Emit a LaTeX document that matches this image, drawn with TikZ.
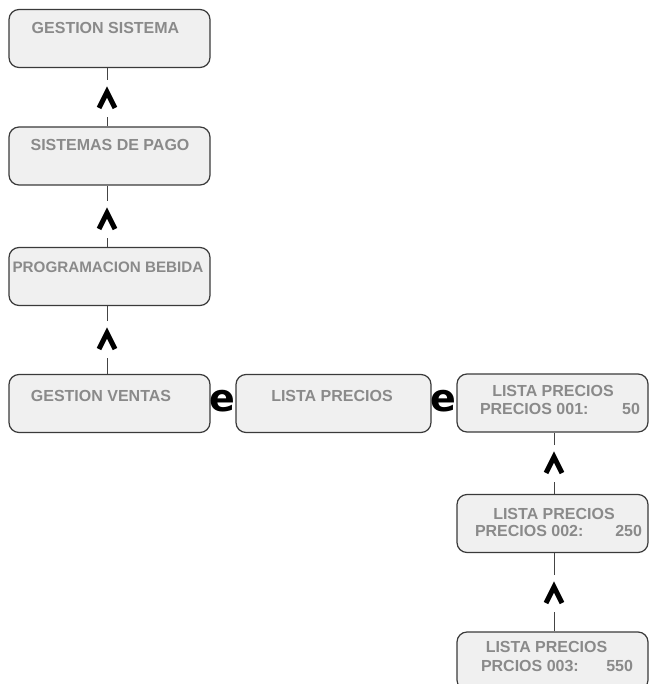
\documentclass[tikz,border=0pt]{standalone}
\usepackage{fontspec}
\setmainfont{Liberation Sans}
\newfontfamily\efont{DejaVu Sans}
\definecolor{boxfill}{HTML}{F0F0F0}
\definecolor{boxline}{HTML}{3A3A3A}
\definecolor{txtgray}{HTML}{8A8A8A}
\definecolor{connline}{HTML}{444444}
\tikzset{
  menubox/.style={draw=boxline, fill=boxfill, line width=1.2pt, rounded corners=10pt,
    minimum height=58pt, inner sep=0pt},
  wideleft/.style={menubox, minimum width=201pt},
  midbox/.style={menubox, minimum width=195pt},
  rightbox/.style={menubox, minimum width=191pt},
  boxtxt/.style={text=txtgray, font=\bfseries\fontsize{16}{18}\selectfont, inner sep=0pt},
  boxtxtsmall/.style={boxtxt, font=\bfseries\fontsize{15.2}{18}\selectfont},
  caretnode/.style={minimum width=16pt, minimum height=16pt, inner sep=0pt, outer sep=0pt},
  caretline/.style={line width=5pt, line join=miter, black},
  conn/.style={draw=connline, line width=1pt},
  eletter/.style={font=\efont\bfseries\fontsize{38}{38}\selectfont, inner sep=0pt, text=black}
}
\begin{document}
\begin{tikzpicture}[x=1pt, y=-1pt]
\path[use as bounding box, clip] (0,0) rectangle (649,684);
% boxes
\node[wideleft] (b1) at (109.5,38.5) {};
\node[wideleft] (b2) at (109.5,156) {};
\node[wideleft] (b3) at (109.5,276.5) {};
\node[wideleft] (b4) at (109.5,403.5) {};
\node[midbox] (b5) at (333.5,403.5) {};
\node[rightbox] (b6) at (552.5,403) {};
\node[rightbox] (b7) at (552.5,523.5) {};
\node[rightbox] (b8) at (552.5,661) {};
% texts
\node[boxtxt] (t1) at (105.5,28) {GESTION SISTEMA};
\node[boxtxt] (t2) at (110,145) {SISTEMAS DE PAGO};
\node[boxtxtsmall] (t3) at (108,267) {PROGRAMACION BEBIDA};
\node[boxtxt] (t4) at (101,396) {GESTION VENTAS};
\node[boxtxt] (t5) at (332,396) {LISTA PRECIOS};
\node[boxtxt] (t6a) at (553,391) {LISTA PRECIOS};
\node[boxtxt] (t6b) at (560,409) {\makebox[160pt]{PRECIOS 001:\hfill 50}};
\node[boxtxt] (t7a) at (554,514) {LISTA PRECIOS};
\node[boxtxt] (t7b) at (558.5,531) {\makebox[167pt]{PRECIOS 002:\hfill 250}};
\node[boxtxt] (t8a) at (546.5,647) {LISTA PRECIOS};
\node[boxtxt] (t8b) at (557,666) {\makebox[152pt]{PRCIOS 003:\hfill 550}};
% e letters
\node[eletter] (e1) at (222.5,401) {e};
\node[eletter] (e2) at (443,401) {e};
% carets
\node[caretnode] (c1) at (107,100) {};
\node[caretnode] (c2) at (107,221) {};
\node[caretnode] (c3) at (107,341) {};
\node[caretnode] (c4) at (554,465) {};
\node[caretnode] (c5) at (554,595) {};
\foreach \c in {c1,c2,c3,c4,c5}{
  \draw[caretline] (\c.south west) -- (\c.north) -- (\c.south east);
}
% connectors
\draw[conn, shorten <=12pt] (c1.north) -- (b1.south -| c1);
\draw[conn, shorten >=9pt] (b2.north -| c1) -- (c1.south);
\draw[conn, shorten <=12pt] (c2.north) -- (b2.south -| c2);
\draw[conn, shorten >=9pt] (b3.north -| c2) -- (c2.south);
\draw[conn, shorten <=12pt] (c3.north) -- (b3.south -| c3);
\draw[conn, shorten >=9pt] (b4.north -| c3) -- (c3.south);
\draw[conn, shorten <=12pt] (c4.north) -- (b6.south -| c4);
\draw[conn, shorten >=9pt] (b7.north -| c4) -- (c4.south);
\draw[conn, shorten <=12pt] (c5.north) -- (b7.south -| c5);
\draw[conn, shorten >=9pt] (b8.north -| c5) -- (c5.south);
\end{tikzpicture}
\end{document}
